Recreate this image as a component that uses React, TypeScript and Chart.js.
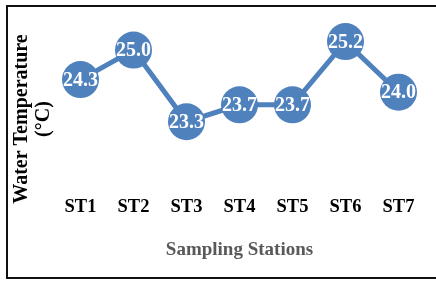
import React, { useEffect, useRef } from "react";
import { Chart, registerables } from "chart.js";

Chart.register(...registerables);

const stations = ["ST1", "ST2", "ST3", "ST4", "ST5", "ST6", "ST7"];
const temperatures = [24.3, 25.0, 23.3, 23.7, 23.7, 25.2, 24.0];
const yAxisTitle = ["Water Temperature", "(°C)"];
const xAxisTitle = "Sampling Stations";

const FONT = '"Liberation Serif", "Times New Roman", serif';
const BLUE = "#4F81BD";

const decorPlugin = {
  id: "decor",
  beforeDraw(chart: any) {
    const ctx = chart.ctx;
    ctx.save();
    ctx.fillStyle = "#ffffff";
    ctx.fillRect(0, 0, chart.width, chart.height);
    // frame
    ctx.fillStyle = "#111111";
    ctx.fillRect(6, 5, 2, 274);
    ctx.fillRect(6, 5, chart.width - 6, 2);
    ctx.fillRect(6, 277, chart.width - 6, 2);
    // y axis title
    ctx.translate(0, 119);
    ctx.rotate(-Math.PI / 2);
    ctx.fillStyle = "#000000";
    ctx.font = `bold 20px ${FONT}`;
    ctx.textAlign = "center";
    ctx.textBaseline = "middle";
    ctx.fillText(yAxisTitle[0], 0, 22);
    ctx.fillText(yAxisTitle[1], 0, 44);
    ctx.restore();
  },
  afterDatasetsDraw(chart: any) {
    const ctx = chart.ctx;
    const meta = chart.getDatasetMeta(0);
    const data = chart.data.datasets[0].data as number[];
    ctx.save();
    ctx.fillStyle = "#ffffff";
    ctx.font = `bold 20px ${FONT}`;
    ctx.textAlign = "center";
    ctx.textBaseline = "middle";
    meta.data.forEach((pt: any, i: number) => {
      ctx.fillText(data[i].toFixed(1), pt.x, pt.y + 1);
    });
    ctx.restore();
  },
};

export default function App() {
  const ref = useRef<HTMLCanvasElement>(null);
  useEffect(() => {
    if (!ref.current) return;
    const chart = new Chart(ref.current, {
      type: "line",
      data: {
        labels: stations,
        datasets: [
          {
            data: temperatures,
            borderColor: BLUE,
            backgroundColor: BLUE,
            borderWidth: 5,
            tension: 0,
            pointRadius: 18.5,
            pointHoverRadius: 18.5,
            pointBackgroundColor: BLUE,
            pointBorderWidth: 0,
            clip: false as any,
          },
        ],
      },
      options: {
        responsive: false,
        animation: false,
        events: [],
        layout: { autoPadding: false, padding: { left: 54, right: 11, top: 10, bottom: 15.6 } },
        plugins: { legend: { display: false }, tooltip: { enabled: false } },
        scales: {
          x: {
            type: "category",
            offset: true,
            grid: { display: false, drawTicks: false },
            border: { display: false },
            ticks: {
              color: "#000000",
              font: { family: FONT, size: 18.5, weight: "bold" },
              padding: 3,
              maxRotation: 0,
              autoSkip: false,
            },
            title: {
              display: true,
              text: xAxisTitle,
              color: "#595959",
              font: { family: FONT, size: 19, weight: "bold" },
              padding: { top: 17, bottom: 4 },
            },
          },
          y: {
            display: false,
            min: 21.6,
            max: 25.95,
          },
        },
      },
      plugins: [decorPlugin],
    });
    return () => chart.destroy();
  }, []);
  return (
    <div style={{ position: "fixed", left: 0, top: 0, width: 436, height: 281, background: "#fff" }}>
      <canvas ref={ref} width={436} height={281} style={{ display: "block" }} />
    </div>
  );
}
